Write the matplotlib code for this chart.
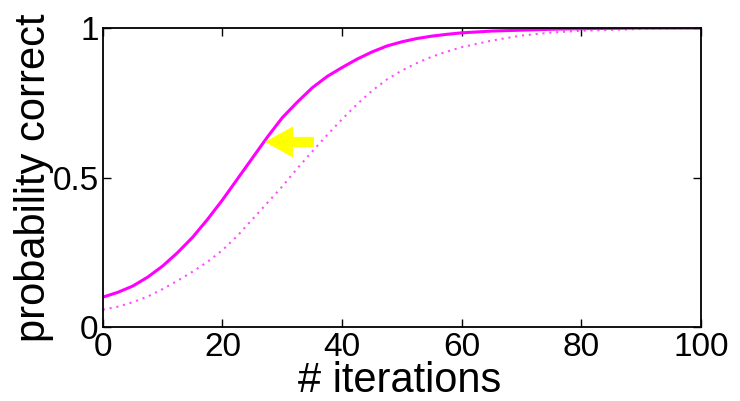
import matplotlib
matplotlib.use("Agg")
import matplotlib.pyplot as plt
from matplotlib.patches import FancyArrow

plt.rcParams['font.family'] = ['Liberation Sans', 'DejaVu Sans']

iterations = [0, 2.5, 5, 7.5, 10, 12.5, 15, 17.5, 20, 22.5, 25, 27.5, 30, 32.5, 35, 37.5,
              40, 42.5, 45, 47.5, 50, 52.5, 55, 57.5, 60, 65, 70, 75, 80, 85, 90, 95, 100]
prob_solid = [0.100, 0.116, 0.137, 0.167, 0.204, 0.249, 0.300, 0.360, 0.425, 0.495, 0.565,
              0.635, 0.700, 0.752, 0.800, 0.838, 0.868, 0.896, 0.920, 0.940, 0.954, 0.965,
              0.973, 0.979, 0.984, 0.990, 0.993, 0.996, 0.998, 0.999, 1.0, 1.0, 1.0]
prob_dotted = [0.058, 0.068, 0.083, 0.102, 0.127, 0.155, 0.185, 0.218, 0.257, 0.305, 0.360,
               0.415, 0.470, 0.530, 0.587, 0.642, 0.695, 0.745, 0.790, 0.828, 0.858, 0.883,
               0.904, 0.921, 0.936, 0.958, 0.975, 0.985, 0.991, 0.994, 0.997, 0.999, 1.0]
xticks = [0, 20, 40, 60, 80, 100]
yticks = [0, 0.5, 1]
ytick_labels = ['0', '0.5', '1']

# arrow (shift from dotted to solid curve)
arrow_tail = (35.3, 0.619)
arrow_tip_x = 27.1

fig = plt.figure(figsize=(7.40, 4.01), dpi=100)
ax = fig.add_axes([0.139, 0.1845, 0.808, 0.7455])

ax.plot(iterations, prob_dotted, color='#ff00ff', lw=1.5, linestyle=(0, (1, 2.3)), alpha=0.7)
ax.plot(iterations, prob_solid, color='#ff00ff', lw=2.2)

ax.add_patch(FancyArrow(arrow_tail[0], arrow_tail[1], arrow_tip_x - arrow_tail[0], 0,
                        width=0.034, head_width=0.104, head_length=4.7,
                        length_includes_head=True, color='#ffff00', lw=0, zorder=5))

ax.set_xlim(0, 100)
ax.set_ylim(0, 1)
ax.set_xticks(xticks)
ax.set_yticks(yticks)
ax.set_yticklabels(ytick_labels)
ax.tick_params(direction='in', length=6, width=1, top=True, right=True, labelsize=24)
ax.tick_params(axis='x', pad=3.5)
ax.tick_params(axis='y', pad=3)
for s in ax.spines.values():
    s.set_linewidth(1.3)
ax.set_xlabel('# iterations', fontsize=30)
ax.set_ylabel('probability correct', fontsize=30)
ax.xaxis.set_label_coords(0.497, -0.113)
ax.yaxis.set_label_coords(-0.082, 0.5)

fig.savefig('out.png', dpi=100)
